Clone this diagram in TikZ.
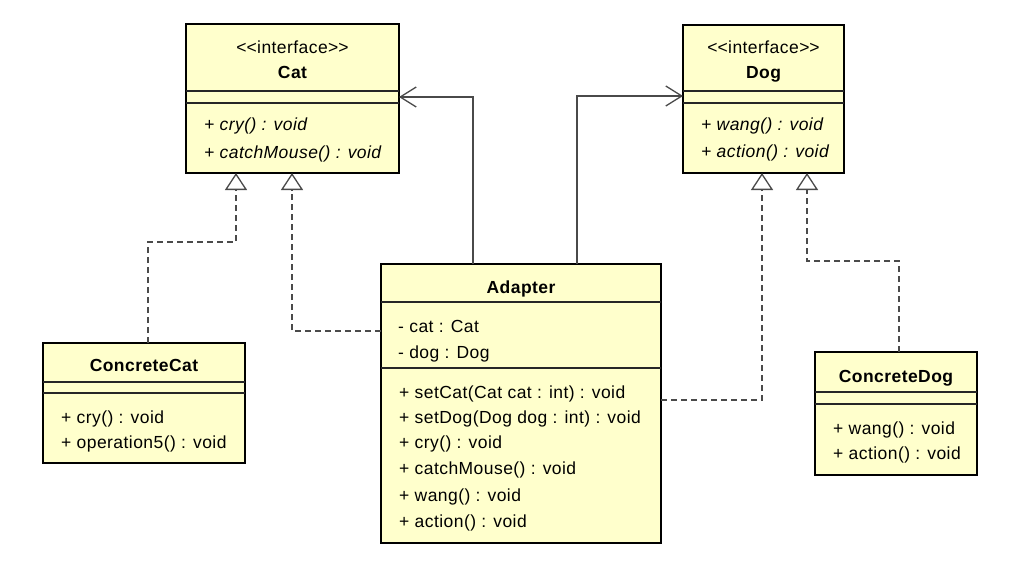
\documentclass[tikz,border=0pt]{standalone}
\usepackage{fontspec}
\setmainfont{Liberation Sans}
\newfontfamily\umlfont{Liberation Sans}[LetterSpace=2.5]
\usetikzlibrary{arrows.meta}
\definecolor{umlfill}{HTML}{FFFFCC}
\definecolor{umlline}{HTML}{4A4A4A}
\tikzset{
  x=1pt, y=-1pt,
  classbox/.style={draw=black, line width=2.8pt, fill=umlfill, rectangle, inner sep=0pt, outer sep=0pt},
  sepline/.style={draw=black!85, line width=1.4pt},
  titletext/.style={anchor=base, inner sep=0pt, font=\umlfont\fontsize{17.5}{20}\selectfont\bfseries},
  stereo/.style={anchor=base, inner sep=0pt, font=\umlfont\fontsize{17.5}{20}\selectfont},
  member/.style={anchor=base west, inner sep=0pt, xshift=18pt, font=\umlfont\fontsize{17.5}{20}\selectfont},
  absmember/.style={member, font=\umlfont\fontsize{17.5}{20}\selectfont\itshape},
  assoc/.style={draw=umlline, line width=1.3pt, -{Straight Barb[length=16pt,width=20pt,line width=1.3pt]}},
  realize/.style={draw=umlline, line width=1.3pt, dash pattern=on 6pt off 4pt, -{Triangle[length=17pt,width=22pt,fill=white,line width=1.3pt]}},
}
\begin{document}
\begin{tikzpicture}
\useasboundingbox[fill=white] (0,0) rectangle (1024,567);

% ---------- Cat ----------
\node[classbox, minimum width=213pt, minimum height=149pt] (cat) at (292.5,98.5) {};
\draw[sepline] (cat.west |- 0,91) -- (cat.east |- 0,91);
\draw[sepline] (cat.west |- 0,103) -- (cat.east |- 0,103);
\node[stereo] (catst) at (cat.north |- 0,54) {<\kern0pt<interface>\kern0pt>};
\node[titletext] (catti) at (cat.north |- 0,79) {Cat};
\node[absmember] (catm1) at (cat.west |- 0,131) {+ cry() : void};
\node[absmember] (catm2) at (cat.west |- 0,158) {+ catchMouse() : void};

% ---------- Dog ----------
\node[classbox, minimum width=161pt, minimum height=148pt] (dog) at (763.5,99) {};
\draw[sepline] (dog.west |- 0,91) -- (dog.east |- 0,91);
\draw[sepline] (dog.west |- 0,103) -- (dog.east |- 0,103);
\node[stereo] (dogst) at (dog.north |- 0,54) {<\kern0pt<interface>\kern0pt>};
\node[titletext] (dogti) at (dog.north |- 0,79) {Dog};
\node[absmember] (dogm1) at (dog.west |- 0,131) {+ wang() : void};
\node[absmember] (dogm2) at (dog.west |- 0,157) {+ action() : void};

% ---------- Adapter ----------
\node[classbox, minimum width=280pt, minimum height=279pt] (adapter) at (521,403.5) {};
\draw[sepline] (adapter.west |- 0,302) -- (adapter.east |- 0,302);
\draw[sepline] (adapter.west |- 0,368) -- (adapter.east |- 0,368);
\node[titletext] (adti) at (adapter.north |- 0,293) {Adapter};
\node[member, xshift=-1pt] (ada1) at (adapter.west |- 0,332) {- cat : Cat};
\node[member, xshift=-1pt] (ada2) at (adapter.west |- 0,358) {- dog : Dog};
\node[member] (adm1) at (adapter.west |- 0,398) {+ setCat(Cat cat : int) : void};
\node[member] (adm2) at (adapter.west |- 0,423) {+ setDog(Dog dog : int) : void};
\node[member] (adm3) at (adapter.west |- 0,448) {+ cry() : void};
\node[member] (adm4) at (adapter.west |- 0,474) {+ catchMouse() : void};
\node[member] (adm5) at (adapter.west |- 0,501) {+ wang() : void};
\node[member] (adm6) at (adapter.west |- 0,527) {+ action() : void};

% ---------- ConcreteCat ----------
\node[classbox, minimum width=202pt, minimum height=120pt] (ccat) at (144,403) {};
\draw[sepline] (ccat.west |- 0,382) -- (ccat.east |- 0,382);
\draw[sepline] (ccat.west |- 0,393) -- (ccat.east |- 0,393);
\node[titletext] (ccti) at (ccat.north |- 0,371) {ConcreteCat};
\node[member] (ccm1) at (ccat.west |- 0,423) {+ cry() : void};
\node[member] (ccm2) at (ccat.west |- 0,448) {+ operation5() : void};

% ---------- ConcreteDog ----------
\node[classbox, minimum width=162pt, minimum height=123pt] (cdog) at (896,413.5) {};
\draw[sepline] (cdog.west |- 0,392) -- (cdog.east |- 0,392);
\draw[sepline] (cdog.west |- 0,404) -- (cdog.east |- 0,404);
\node[titletext] (cdti) at (cdog.north |- 0,382) {ConcreteDog};
\node[member] (cdm1) at (cdog.west |- 0,434) {+ wang() : void};
\node[member] (cdm2) at (cdog.west |- 0,459) {+ action() : void};

% ---------- helper coordinates ----------
\coordinate (xa) at (473,97);
\coordinate (xb) at (577,96);
\coordinate (c1) at (148,242);
\coordinate (c2) at (236,242);
\coordinate (a1) at (292,331);
\coordinate (a2) at (762,400);
\coordinate (d1) at (899,261);
\coordinate (d2) at (807,261);

% ---------- associations ----------
\draw[assoc] (adapter.north -| xa) -- (xa) -- (cat.east |- xa);
\draw[assoc] (adapter.north -| xb) -- (xb) -- (dog.west |- xb);

% ---------- realizations ----------
\draw[realize] (ccat.north -| c1) -- (c1) -- (c2) -- (cat.south -| c2);
\draw[realize] (adapter.west |- a1) -- (a1) -- (cat.south -| a1);
\draw[realize] (adapter.east |- a2) -- (a2) -- (dog.south -| a2);
\draw[realize] (cdog.north -| d1) -- (d1) -- (d2) -- (dog.south -| d2);
\end{tikzpicture}
\end{document}
